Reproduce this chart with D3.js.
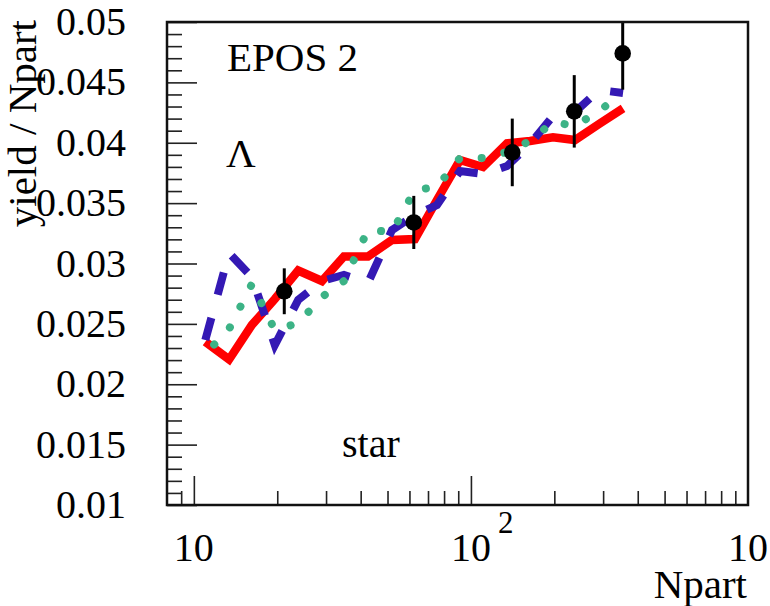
<!DOCTYPE html>
<html>
<head>
<meta charset="utf-8">
<script src="https://cdn.jsdelivr.net/npm/d3@7"></script>
<style>
  html, body { margin: 0; padding: 0; background: #fff; }
  svg { display: block; }
  text { font-family: "Liberation Serif", "Times New Roman", "DejaVu Serif", serif; fill: #000; }
</style>
</head>
<body>
<svg id="chart" width="770" height="606"></svg>
<script>
// Number of participants for the model curves
const npart = [11.0, 13.4, 16.2, 19.6, 23.8, 29.0, 34.8, 42.5, 51.9, 62.8,
               75.4, 91.3, 110.6, 135.0, 163.4, 197.8, 237.5, 290.0, 354.0];

// EPOS 2 Lambda yield per participant, three model variants
const eposSolid  = [0.02352, 0.02205, 0.02491, 0.02706, 0.02942, 0.02855, 0.03058, 0.03058, 0.03195, 0.03203,
                    0.03526, 0.03857, 0.03799, 0.03995, 0.04015, 0.04045, 0.04023, 0.04155, 0.04285];
const eposDashed = [0.02366, 0.03087, 0.02888, 0.02325, 0.02698, 0.02855, 0.02905, 0.02839, 0.03277, 0.03402,
                    0.03484, 0.03766, 0.03741, 0.03807, 0.03990, 0.04222, 0.04255, 0.04437, 0.04412];
const eposDotted = [0.02251, 0.02458, 0.02830, 0.02449, 0.02507, 0.02723, 0.02855, 0.03277, 0.03261, 0.03609,
                    0.03634, 0.03874, 0.03874, 0.03923, 0.04015, 0.04172, 0.04139, 0.04263, 0.04412];

// STAR measurement
const starNpart = [21.2, 62.2, 141.0, 236.0, 353.0];
const starYield = [0.0277, 0.0334, 0.0392, 0.0426, 0.0474];
const starError = [0.0019, 0.0022, 0.0028, 0.0030, 0.0030];

// Axis ticks and labels
const yMajorTicks = [0.01, 0.015, 0.02, 0.025, 0.03, 0.035, 0.04, 0.045, 0.05];
const yTickLabels = ["0.01", "0.015", "0.02", "0.025", "0.03", "0.035", "0.04", "0.045", "0.05"];
const xMajorTicks = [10, 100, 1000];
const xTickBase = ["10", "10", "10"];
const xTickExp = ["", "2", ""];
const xMinorTicks = [9, 20, 30, 40, 50, 60, 70, 80, 90, 200, 300, 400, 500, 600, 700, 800, 900];

const frame = { left: 167, right: 748, top: 22, bottom: 505 };

const svg = d3.select("#chart");

const x = d3.scaleLog().domain([8, 1000]).range([frame.left, frame.right]);
const y = d3.scaleLinear().domain([0.01, 0.05]).range([frame.bottom, frame.top]);

// Minor y ticks every 0.001
const yMinorTicks = d3.range(10, 51).map(d => d / 1000).filter(v => !yMajorTicks.some(m => Math.abs(m - v) < 1e-9));

svg.append("defs").append("clipPath").attr("id", "plotArea")
  .append("rect")
  .attr("x", frame.left).attr("y", frame.top)
  .attr("width", frame.right - frame.left).attr("height", frame.bottom - frame.top);

// Y axis: ticks point into the frame
const yAxisMajor = d3.axisRight(y).tickValues(yMajorTicks).tickSize(30).tickFormat("");
const yAxisMinor = d3.axisRight(y).tickValues(yMinorTicks).tickSize(15).tickFormat("");
[yAxisMajor, yAxisMinor].forEach(ax => {
  const g = svg.append("g").attr("transform", `translate(${frame.left},0)`).call(ax);
  g.select(".domain").remove();
  g.selectAll(".tick line").attr("stroke", "#222").attr("stroke-width", 1.6);
});

// X axis: ticks point up into the frame
const xAxisMajor = d3.axisTop(x).tickValues(xMajorTicks.filter(v => v < 1000)).tickSize(29).tickFormat("");
const xAxisMinor = d3.axisTop(x).tickValues(xMinorTicks).tickSize(14).tickFormat("");
[xAxisMajor, xAxisMinor].forEach(ax => {
  const g = svg.append("g").attr("transform", `translate(0,${frame.bottom})`).call(ax);
  g.select(".domain").remove();
  g.selectAll(".tick line").attr("stroke", "#222").attr("stroke-width", 1.6);
});

// Y tick labels
svg.append("g").selectAll("text")
  .data(yMajorTicks)
  .join("text")
  .attr("x", 126)
  .attr("y", d => y(d) + 13)
  .attr("text-anchor", "end")
  .attr("font-size", 40)
  .text((d, i) => yTickLabels[i]);

// X tick labels (powers of ten)
const xl = svg.append("g").selectAll("g")
  .data(xMajorTicks)
  .join("g")
  .attr("transform", d => `translate(${x(d)},561)`);
xl.append("text")
  .attr("text-anchor", "middle")
  .attr("font-size", 40)
  .text((d, i) => xTickBase[i]);
xl.filter((d, i) => xTickExp[i] !== "")
  .append("text")
  .attr("x", 27)
  .attr("y", -28)
  .attr("font-size", 31)
  .text(d => xTickExp[xMajorTicks.indexOf(d)]);

// Axis titles
svg.append("text")
  .attr("x", 747).attr("y", 598)
  .attr("text-anchor", "end")
  .attr("font-size", 41)
  .text("Npart");
svg.append("text")
  .attr("transform", "translate(36,20) rotate(-90)")
  .attr("text-anchor", "end")
  .attr("font-size", 41)
  .text("yield / Npart");

// Model curves
const plot = svg.append("g").attr("clip-path", "url(#plotArea)");
const line = d3.line().x(d => x(d[0])).y(d => y(d[1]));

plot.append("path")
  .datum(npart.map((n, i) => [n, eposSolid[i]]))
  .attr("d", line)
  .attr("fill", "none")
  .attr("stroke", "#ff0000")
  .attr("stroke-width", 8.5)
  .attr("stroke-linejoin", "miter");

plot.append("path")
  .datum(npart.map((n, i) => [n, eposDashed[i]]))
  .attr("d", line)
  .attr("fill", "none")
  .attr("stroke", "#3419b4")
  .attr("stroke-width", 8)
  .attr("stroke-dasharray", "23 24");

plot.append("path")
  .datum(npart.map((n, i) => [n, eposDotted[i]]))
  .attr("d", line)
  .attr("fill", "none")
  .attr("stroke", "#3cb386")
  .attr("stroke-width", 8)
  .attr("stroke-linecap", "round")
  .attr("stroke-dasharray", "0.1 23.2")
  .attr("stroke-dashoffset", 10.4);

// STAR points with error bars
const star = plot.append("g");
star.selectAll("line")
  .data(starNpart)
  .join("line")
  .attr("x1", d => x(d)).attr("x2", d => x(d))
  .attr("y1", (d, i) => y(starYield[i] - starError[i]))
  .attr("y2", (d, i) => y(starYield[i] + starError[i]))
  .attr("stroke", "#000")
  .attr("stroke-width", 3);
star.selectAll("circle")
  .data(starNpart)
  .join("circle")
  .attr("cx", d => x(d))
  .attr("cy", (d, i) => y(starYield[i]))
  .attr("r", 8.3)
  .attr("fill", "#000");

// Frame
svg.append("rect")
  .attr("x", frame.left).attr("y", frame.top)
  .attr("width", frame.right - frame.left).attr("height", frame.bottom - frame.top)
  .attr("fill", "none")
  .attr("stroke", "#111")
  .attr("stroke-width", 2.5);

// Annotations
svg.append("text").attr("x", 227).attr("y", 71).attr("font-size", 41).text("EPOS 2");
svg.append("text").attr("x", 226).attr("y", 167).attr("font-size", 41).text("Λ");
svg.append("text").attr("x", 342).attr("y", 457).attr("font-size", 40).text("star");
</script>
</body>
</html>
